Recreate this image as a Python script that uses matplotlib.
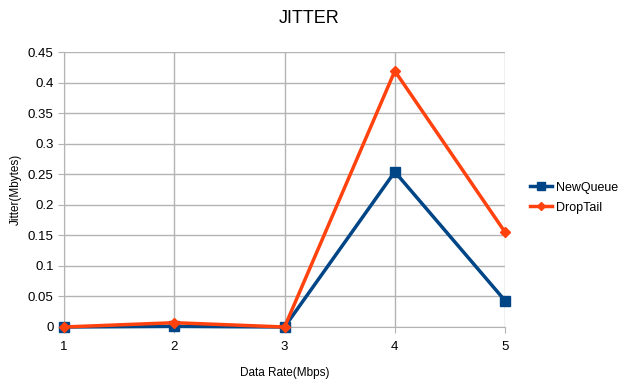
import matplotlib
matplotlib.use("Agg")
import matplotlib.pyplot as plt

# Jitter per data rate for the two queue disciplines
data_rate = [1, 2, 3, 4, 5]
new_queue = [0.0, 0.001, 0.0, 0.254, 0.043]
drop_tail = [0.0, 0.007, 0.0, 0.419, 0.155]
y_ticks = [0, 0.05, 0.1, 0.15, 0.2, 0.25, 0.3, 0.35, 0.4, 0.45]
y_labels = ["0", "0.05", "0.1", "0.15", "0.2", "0.25", "0.3", "0.35", "0.4", "0.45"]

plt.rcParams["font.family"] = ["Liberation Sans", "DejaVu Sans"]

fig = plt.figure(figsize=(6.19, 3.89), dpi=100)
ax = fig.add_axes([0.1034, 0.1594, 0.7126, 0.7069])

ax.plot(data_rate, new_queue, color="#004586", linewidth=2.5, marker="s",
        markersize=7, label="NewQueue", zorder=3, clip_on=False)
ax.plot(data_rate, drop_tail, color="#ff420e", linewidth=2.5, marker="D",
        markersize=5, label="DropTail", zorder=4, clip_on=False)

ax.set_xlim(1, 5)
ax.set_ylim(0, 0.45)
ax.set_xticks(data_rate)
ax.set_yticks(y_ticks)
ax.set_yticklabels(y_labels)
ax.tick_params(axis="both", labelsize=9.5, color="#b3b3b3", length=4)
ax.tick_params(axis="x", pad=6)
ax.grid(True, color="#b3b3b3", linewidth=1)
ax.set_axisbelow(True)
for side in ("top", "right"):
    ax.spines[side].set_visible(False)
for side in ("left", "bottom"):
    ax.spines[side].set_color("#b3b3b3")

ax.set_xlabel("Data Rate(Mbps)", fontsize=8.5, labelpad=10)
ax.set_ylabel("Jitter(Mbytes)", fontsize=8.5, labelpad=4)
fig.suptitle("JITTER", fontsize=13, y=0.975)

ax.legend(loc="center left", bbox_to_anchor=(1.03, 0.47), frameon=False,
          fontsize=9, handlelength=1.8, handletextpad=0.3, labelspacing=0.65,
          markerscale=0.8)

fig.savefig("out.png", dpi=100)
